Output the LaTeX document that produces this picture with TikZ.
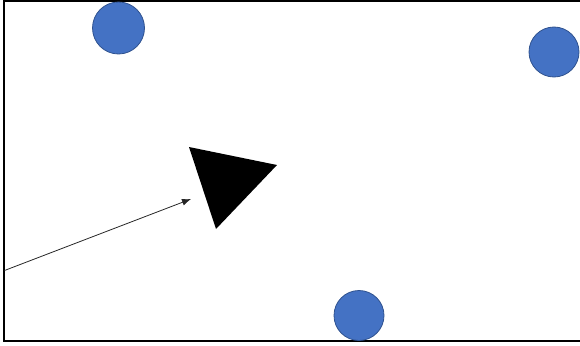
\documentclass[tikz,border=0pt]{standalone}
\usetikzlibrary{arrows.meta}
\definecolor{dotfill}{HTML}{4472C4}
\definecolor{dotline}{HTML}{2F528F}
\tikzset{
  dot/.style={circle, fill=dotfill, draw=dotline, line width=0.8pt, inner sep=0pt},
  frameline/.style={line width=2pt, black},
  pointer/.style={line width=0.8pt, draw=black!85, -{Latex[length=9pt,width=7pt]}}
}
\begin{document}
\begin{tikzpicture}[x=1pt,y=-1pt]
\useasboundingbox (0,0) rectangle (580,345);
\draw[frameline] (580,1.3) -- (4.3,1.3) -- (4.3,341) -- (580,341);
\node[dot, minimum width=52pt, minimum height=50pt] (c1) at (118.5,28) {};
\node[dot, minimum width=48pt, minimum height=50pt] (c2) at (554,52) {};
\node[dot, minimum width=50pt, minimum height=48pt] (c3) at (359,315.5) {};
\fill[black] (189,147) -- (277,165) -- (216,229) -- cycle;
\coordinate (a0) at (4.5,270.5);
\coordinate (a1) at (191,199);
\draw[pointer] (a0) -- (a1);
\end{tikzpicture}
\end{document}
